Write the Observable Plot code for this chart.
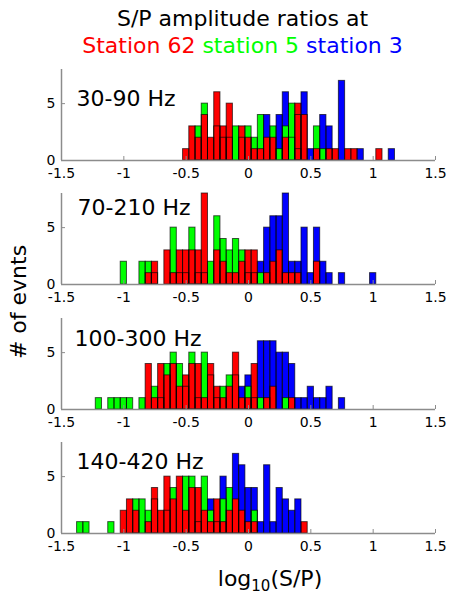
<!DOCTYPE html>
<html>
<head>
<meta charset="utf-8">
<script src="https://cdn.jsdelivr.net/npm/d3@7"></script>
<script src="https://cdn.jsdelivr.net/npm/@observablehq/plot@0.6"></script>
<style>
  html, body { margin: 0; padding: 0; background: #fff; }
  #root { position: relative; width: 450px; height: 597px; overflow: hidden; font-family: "DejaVu Sans", sans-serif; color: #000; }
  .t { position: absolute; font-size: 22px; line-height: 22px; white-space: nowrap; }
  .panel { position: absolute; left: 0; }
</style>
</head>
<body>
<div id="root">
  <div class="t" style="left:0;width:485px;text-align:center;top:8px;">S/P amplitude ratios at</div>
  <div class="t" style="left:0;width:485px;text-align:center;top:35px;"><span style="color:#ff0000">Station 62</span> <span style="color:#00ff00">station 5</span> <span style="color:#0000ff">station 3</span></div>
  <div class="t" style="left:170px;width:200px;text-align:center;top:568px;">log<sub style="font-size:15px;line-height:0;">10</sub>(S/P)</div>
  <div class="t" style="left:-42px;width:122px;text-align:center;top:291px;transform:rotate(-90deg);">#&nbsp;of evnts</div>
</div>
<script>
// ---- data: histogram bin centers (log10 S/P) and counts ----
const binWidth = 0.05;
const xTicks = [-1.5, -1, -0.5, 0, 0.5, 1, 1.5];
const yTicks = [0, 5];
const panelLabels = ["30-90 Hz", "70-210 Hz", "100-300 Hz", "140-420 Hz"];

// 30-90 Hz
const p1Red = [[-0.50,1],[-0.45,3],[-0.40,2],[-0.35,4],[-0.30,2],[-0.25,6],[-0.20,3],[-0.15,5],[-0.05,3],[0,2],[0.05,1],[0.10,1],[0.15,2],[0.20,2],[0.30,2],[0.40,5],[0.45,4],[0.55,1],[0.65,1],[0.70,1],[0.80,1],[0.85,1],[1.05,1]];
const p1Green = [[-0.40,3],[-0.35,5],[-0.25,3],[-0.20,2],[-0.15,2],[-0.10,3],[-0.05,2],[0,3],[0.05,2],[0.10,4],[0.20,3],[0.25,1],[0.30,3],[0.35,5],[0.40,4],[0.55,3],[0.60,1]];
const p1Blue = [[0.15,4],[0.25,4],[0.30,6],[0.35,2],[0.40,1],[0.45,6],[0.50,1],[0.60,4],[0.65,3],[0.75,7],[0.90,1],[1.15,1]];

// 70-210 Hz
const p2Red = [[-0.80,1],[-0.75,2],[-0.65,3],[-0.60,1],[-0.55,3],[-0.50,3],[-0.45,3],[-0.40,3],[-0.35,8],[-0.25,3],[-0.20,2],[-0.15,1],[-0.10,1],[-0.05,2],[0,3],[0.05,3],[0.15,1],[0.20,2],[0.25,3],[0.30,1],[0.35,1],[0.40,1],[0.55,2]];
const p2Green = [[-1.00,2],[-0.85,2],[-0.80,2],[-0.75,1],[-0.60,5],[-0.55,1],[-0.50,1],[-0.45,5],[-0.40,1],[-0.35,1],[-0.30,2],[-0.25,6],[-0.20,4],[-0.15,3],[-0.10,4],[-0.05,3],[0,1],[0.05,1],[0.10,1]];
const p2Blue = [[0.10,2],[0.15,5],[0.20,6],[0.25,6],[0.30,8],[0.35,2],[0.40,2],[0.45,5],[0.50,1],[0.55,5],[0.60,2],[0.65,1],[0.75,1],[1.00,1]];

// 100-300 Hz
const p3Red = [[-0.80,4],[-0.75,1],[-0.70,4],[-0.65,3],[-0.60,4],[-0.55,2],[-0.50,3],[-0.45,4],[-0.40,4],[-0.35,1],[-0.30,4],[-0.25,2],[-0.20,1],[-0.15,2],[-0.10,5],[-0.05,1],[0,1],[0.05,4],[0.15,1],[0.20,2],[0.35,1]];
const p3Green = [[-1.20,1],[-1.10,1],[-1.05,1],[-1.00,1],[-0.95,1],[-0.85,1],[-0.75,2],[-0.70,1],[-0.65,4],[-0.60,5],[-0.55,4],[-0.50,2],[-0.45,5],[-0.40,1],[-0.35,5],[-0.30,3],[-0.25,1],[-0.20,2],[-0.15,3],[-0.10,3],[0,2],[0.05,1],[0.10,1],[0.30,1]];
const p3Blue = [[-0.05,2],[0,3],[0.10,6],[0.15,6],[0.20,6],[0.25,5],[0.30,5],[0.35,4],[0.40,1],[0.45,1],[0.50,2],[0.55,1],[0.60,1],[0.65,2],[0.75,1]];

// 140-420 Hz
const p4Red = [[-1.00,2],[-0.95,3],[-0.90,2],[-0.80,1],[-0.75,4],[-0.70,2],[-0.65,5],[-0.60,3],[-0.55,5],[-0.50,2],[-0.45,4],[-0.40,4],[-0.35,2],[-0.30,1],[-0.25,3],[-0.20,1],[-0.15,2],[-0.10,3],[-0.05,2],[0,1],[0.05,1],[0.45,1]];
const p4Green = [[-1.35,1],[-1.30,1],[-1.10,1],[-0.90,3],[-0.85,3],[-0.80,2],[-0.75,3],[-0.65,2],[-0.60,4],[-0.50,5],[-0.45,5],[-0.40,1],[-0.35,5],[-0.30,2],[-0.25,1],[-0.20,3],[-0.15,4],[0.05,2]];
const p4Blue = [[-0.30,3],[-0.20,5],[-0.10,7],[-0.05,6],[0,4],[0.05,4],[0.10,1],[0.15,6],[0.20,1],[0.25,4],[0.30,3],[0.35,2],[0.40,3]];

// ---- layout ----
const panelTops = [59, 183, 308, 432];
const labelDx = [15, 16, 13, 15];
const labelDy = [21, 6, 12, 11];
const seriesColors = {red: "#ff0000", green: "#00ff00", blue: "#0000ff"};

function rows(arr) {
  return arr.map(([c, n]) => ({x1: c - binWidth / 2, x2: c + binWidth / 2, n}));
}

function panel(red, green, blue, i) {
  const r = rows(red), g = rows(green), b = rows(blue);
  const all = [...b, ...g, ...r];
  const tickLen = 4 / (374 / 3); // 4px in data units of x
  return Plot.plot({
    width: 450,
    height: 125,
    marginLeft: 61,
    marginRight: 15,
    marginTop: 10,
    marginBottom: 24,
    x: {domain: [-1.5, 1.5], axis: null},
    y: {domain: [0, 8], axis: null},
    style: {fontFamily: "DejaVu Sans", fontSize: "14px", color: "#000", background: "transparent", overflow: "visible"},
    marks: [
      Plot.rect(b, {x1: "x1", x2: "x2", y1: 0, y2: "n", fill: seriesColors.blue}),
      Plot.rect(g, {x1: "x1", x2: "x2", y1: 0, y2: "n", fill: seriesColors.green}),
      Plot.rect(r, {x1: "x1", x2: "x2", y1: 0, y2: "n", fill: seriesColors.red}),
      Plot.rect(all, {x1: "x1", x2: "x2", y1: 0, y2: "n", fill: "none", stroke: "#000", strokeOpacity: 0.65, strokeWidth: 1}),
      Plot.ruleY([0], {x1: -1.5, x2: 1.5, stroke: "#8c8c8c", strokeWidth: 1.5}),
      Plot.ruleX([-1.5], {y1: 0, y2: 8, stroke: "#8c8c8c", strokeWidth: 1.5}),
      Plot.ruleX(xTicks, {y1: 0, y2: 0.35, stroke: "#8c8c8c"}),
      Plot.ruleY(yTicks, {x1: -1.5, x2: -1.5 + tickLen, stroke: "#8c8c8c"}),
      Plot.axisX({ticks: xTicks, tickSize: 0, tickPadding: 8, label: null, tickFormat: d => String(d)}),
      Plot.axisY({ticks: yTicks, tickSize: 0, tickPadding: 6, label: null, tickFormat: d => String(d)}),
      Plot.text([panelLabels[i]], {text: d => d, frameAnchor: "top-left", textAnchor: "start", lineAnchor: "top", dx: labelDx[i], dy: labelDy[i], fontSize: 22, fill: "#000"})
    ]
  });
}

const root = document.getElementById("root");
const data = [[p1Red, p1Green, p1Blue], [p2Red, p2Green, p2Blue], [p3Red, p3Green, p3Blue], [p4Red, p4Green, p4Blue]];
data.forEach(([r, g, b], i) => {
  const svg = panel(r, g, b, i);
  svg.classList.add("panel");
  svg.style.top = panelTops[i] + "px";
  root.appendChild(svg);
});
</script>
</body>
</html>
